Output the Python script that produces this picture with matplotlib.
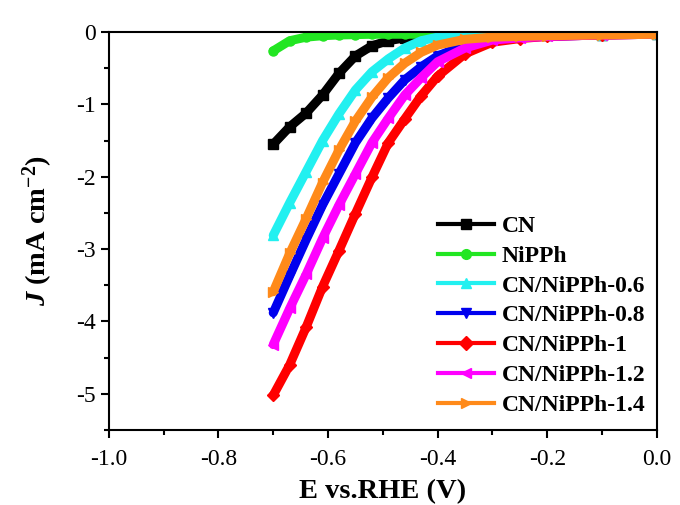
import matplotlib
matplotlib.use("Agg")
import matplotlib.pyplot as plt
from matplotlib.ticker import MultipleLocator, FuncFormatter
from matplotlib.lines import Line2D

plt.rcParams['font.family'] = ['Liberation Serif', 'DejaVu Serif']
plt.rcParams['mathtext.fontset'] = 'custom'
plt.rcParams['mathtext.rm'] = 'Liberation Serif'
plt.rcParams['mathtext.it'] = 'Liberation Serif:italic'
plt.rcParams['mathtext.bf'] = 'Liberation Serif:bold'
plt.rcParams['mathtext.bfit'] = 'Liberation Serif:bold:italic'

# potentials (V vs RHE)
E = [-0.70, -0.67, -0.64, -0.61, -0.58, -0.55, -0.52, -0.49, -0.46,
     -0.43, -0.40, -0.35, -0.30, -0.25, -0.20, -0.10, 0.0]

J_CN = [-1.55, -1.31, -1.12, -0.87, -0.57, -0.33, -0.19, -0.12, -0.08,
        -0.06, -0.05, -0.045, -0.04, -0.04, -0.04, -0.035, -0.03]
J_NiPPh = [-0.26, -0.12, -0.07, -0.05, -0.04, -0.035, -0.03, -0.03, -0.03,
           -0.03, -0.03, -0.03, -0.03, -0.03, -0.03, -0.03, -0.03]
J_06 = [-2.81, -2.36, -1.93, -1.50, -1.13, -0.80, -0.55, -0.37, -0.22,
        -0.12, -0.07, -0.05, -0.04, -0.04, -0.04, -0.035, -0.03]
J_08 = [-3.88, -3.37, -2.87, -2.39, -1.96, -1.53, -1.19, -0.91, -0.66,
        -0.48, -0.33, -0.18, -0.10, -0.07, -0.06, -0.04, -0.03]
J_1 = [-5.02, -4.60, -4.08, -3.52, -3.02, -2.51, -2.01, -1.53, -1.20,
       -0.88, -0.61, -0.30, -0.14, -0.09, -0.06, -0.04, -0.03]
J_12 = [-4.32, -3.82, -3.35, -2.85, -2.39, -1.96, -1.53, -1.19, -0.87,
        -0.63, -0.41, -0.22, -0.11, -0.08, -0.06, -0.04, -0.03]
J_14 = [-3.59, -3.06, -2.58, -2.08, -1.63, -1.23, -0.90, -0.63, -0.43,
        -0.28, -0.18, -0.10, -0.07, -0.06, -0.05, -0.04, -0.03]

labels = ['CN', 'NiPPh', 'CN/NiPPh-0.6', 'CN/NiPPh-0.8', 'CN/NiPPh-1',
          'CN/NiPPh-1.2', 'CN/NiPPh-1.4']
series = [J_CN, J_NiPPh, J_06, J_08, J_1, J_12, J_14]
colors = ['#000000', '#22e622', '#22f0f0', '#0000ee', '#ff0000', '#ff00ff', '#ff8a1a']
markers = ['s', 'o', '^', 'v', 'D', '<', '>']

fig = plt.figure(figsize=(6.8, 5.05), dpi=100)
ax = fig.add_axes([0.160, 0.1485, 0.806, 0.788])

handles = []
for y, lab, c, m in zip(series, labels, colors, markers):
    ax.plot(E, y, color=c, lw=6.5, marker=m, ms=6.5,
            solid_capstyle='round', solid_joinstyle='round')
    handles.append(Line2D([], [], color=c, lw=3, marker=m, ms=7, label=lab))

ax.set_xlim(-1.0, 0.0)
ax.set_ylim(-5.5, 0.0)
ax.xaxis.set_major_locator(MultipleLocator(0.2))
ax.xaxis.set_minor_locator(MultipleLocator(0.1))
ax.yaxis.set_major_locator(MultipleLocator(1))
ax.yaxis.set_minor_locator(MultipleLocator(0.5))
ax.xaxis.set_major_formatter(FuncFormatter(lambda v, p: f"{v:.1f}"))
ax.yaxis.set_major_formatter(FuncFormatter(lambda v, p: f"{v:.0f}" if abs(v) > 1e-9 else "0"))
ax.tick_params(which='major', direction='out', length=6, width=1.5, labelsize=17)
ax.tick_params(axis='x', which='major', pad=8)
ax.tick_params(which='minor', direction='out', length=3.5, width=1.5)
for s in ax.spines.values():
    s.set_linewidth(1.5)

ax.set_xlabel('E vs.RHE (V)', fontsize=20.5, fontweight='bold', labelpad=6)
ax.set_ylabel(r'$\mathbfit{J}$ $\mathbf{(mA\ cm^{-2})}$', fontsize=20.5, labelpad=15)

ax.legend(handles=handles, loc='lower right', bbox_to_anchor=(0.996, 0.012),
          frameon=False, prop={'weight': 'bold', 'size': 17}, handlelength=2.4,
          handletextpad=0.3, labelspacing=0.35, borderaxespad=0.0)

fig.savefig('out.png', dpi=100)
